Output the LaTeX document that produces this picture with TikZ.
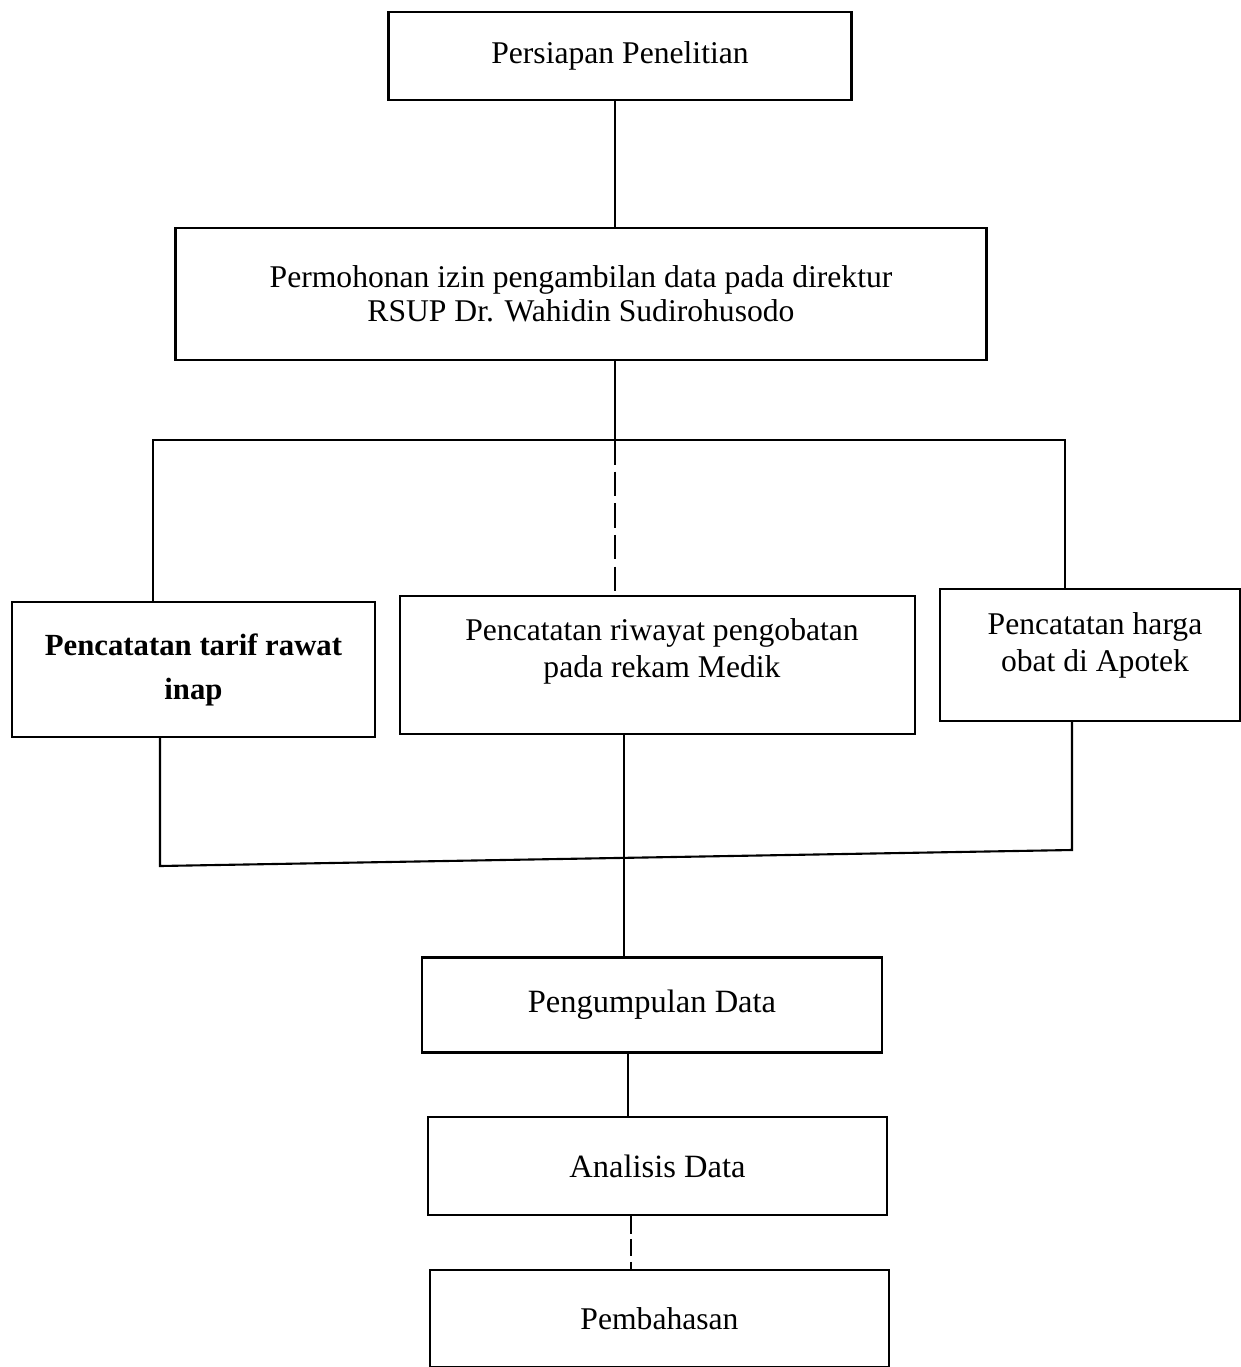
\documentclass[tikz,border=0pt]{standalone}
\usepackage{fontspec}
\setmainfont{Liberation Serif}
\begin{document}
\begin{tikzpicture}[x=0.02cm,y=-0.02cm,
  box/.style={draw,line width=1.2pt,inner sep=0pt,align=center,font=\fontsize{18}{24}\selectfont},
  conn/.style={line width=1.2pt}]
\useasboundingbox (0,0) rectangle (1241,1367);
% boxes
\node[box,minimum width=463*0.02cm,minimum height=88*0.02cm] (b1) at (620,56) {Persiapan Penelitian};
\node[box,minimum width=811*0.02cm,minimum height=132*0.02cm,font=\fontsize{18}{21.5}\selectfont] (b2) at (581,294) {Permohonan izin pengambilan data pada direktur\\[-2pt]RSUP Dr. Wahidin Sudirohusodo};
\node[box,minimum width=363*0.02cm,minimum height=135*0.02cm,font=\bfseries\fontsize{17.5}{25}\selectfont] (b3a) at (193.5,669.5) {Pencatatan tarif rawat\\inap};
\node[box,minimum width=515*0.02cm,minimum height=138*0.02cm,anchor=north] (b3b) at (657.5,595) {\rule{0pt}{0pt}};
\node[font=\fontsize{18}{21}\selectfont,align=center,anchor=north] (t3b) at (662,612) {Pencatatan riwayat pengobatan\\pada rekam Medik};
\node[box,minimum width=300*0.02cm,minimum height=132*0.02cm,anchor=north] (b3c) at (1090,588) {\rule{0pt}{0pt}};
\node[font=\fontsize{18}{21}\selectfont,align=center,anchor=north] (t3c) at (1095,606) {Pencatatan harga\\obat di Apotek};
\node[box,minimum width=460*0.02cm,minimum height=95*0.02cm,font=\fontsize{18.5}{24}\selectfont] (b4) at (652,1005) {Pengumpulan Data};
\node[box,minimum width=459*0.02cm,minimum height=98*0.02cm,font=\fontsize{18.5}{24}\selectfont] (b5) at (657.5,1166) {Analisis Data};
\node[box,minimum width=459*0.02cm,minimum height=97*0.02cm] (b6) at (659.5,1318.5) {Pembahasan};
% junction coordinates
\coordinate (jt) at (615,440);
\coordinate (jtl) at (153,440);
\coordinate (jtr) at (1065,440);
\coordinate (jbl) at (160,866);
\coordinate (jbm) at (624,858);
\coordinate (jbr) at (1072,850);
\coordinate (c45) at (628,0);
\coordinate (c56) at (631,0);
% connectors
\draw[conn] (b1.south -| jt) -- (b2.north -| jt);
\draw[conn] (b2.south -| jt) -- (jt);
\draw[conn,dash pattern=on 14pt off 4pt] (jt) -- (b3b.north -| jt);
\draw[conn] (b3a.north -| jtl) -- (jtl) -- (jtr) -- (b3c.north -| jtr);
\draw[conn] (b3a.south -| jbl) -- (jbl) -- (jbr) -- (b3c.south -| jbr);
\draw[conn] (b3b.south -| jbm) -- (b4.north -| jbm);
\draw[conn] (b4.south -| c45) -- (b5.north -| c45);
\draw[conn,dash pattern=on 10pt off 3pt] (b5.south -| c56) -- (b6.north -| c56);
\end{tikzpicture}
\end{document}
